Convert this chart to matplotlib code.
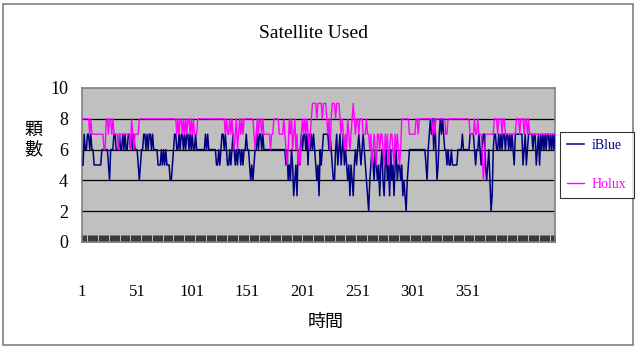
import numpy as np
import matplotlib
matplotlib.use('Agg')
import matplotlib.pyplot as plt
from matplotlib.patches import Rectangle
from matplotlib.ticker import FixedLocator, NullFormatter

plt.rcParams['font.family'] = ['Liberation Serif', 'Noto Sans CJK TC', 'DejaVu Sans']

# 讀圖估值, 每段約 72 點
iblue_str = (
    "55" "766776766" "5555555" "666666" "546" "6677666" "766767667767676" "665456"
    "6776767767666" "6555"
    "65656" "55544" "567" "7667677676776767667" "66666666" "7676" "666666" "5565"
    "67767" "6556567656566"
    "5656" "67665" "45456" "676776766" "66666666666666666" "656454653453656"
    "76776757676765" "453"
    "656" "777776" "76544" "675675675" "65453543565" "67656765" "4324" "56546545"
    "3564356" "45364535645"
    "545343245" "666666666666666" "546" "787868" "64578" "78766" "565565" "555566"
    "6676" "666667" "7776566"
    "76567" "75456" "4236" "776676" "767767767" "67657" "777777" "567567" "777677"
    "567576" "767677676767"
)
holux_str = (
    "8888888" "7877" "777777777" "66" "8878878" "7777677777777776" "87677778"
    "8888888888888888888"
    "88888888888888" "78788787878878787778" "888888888888888888888888"
    "78778787678678"
    "787" "888888888" "76787" "8878" "777777" "67" "7888887" "77787" "6568" "7867867"
    "5657" "878787" "678" "9999899"
    "998999878" "6899" "98999878" "76768767" "8987" "887888777877" "67567657"
    "7677657" "675677657676"
    "568" "888888" "777777" "887888888888888" "78788" "88888887788"
    "888888888888888888" "77778778"
    "7776" "457" "7777777" "88878887887" "777777777" "888788878878777"
    "777777777777777777777"
)
iblue = [int(c) for c in iblue_str]
holux = [int(c) for c in holux_str]
n = min(len(iblue), len(holux))
iblue, holux = iblue[:n], holux[:n]

x_tick_pos = [0, 50, 100, 150, 200, 250, 300, 350]
x_tick_labels = ['1', '51', '101', '151', '201', '251', '301', '351']
y_ticks = [0, 2, 4, 6, 8, 10]

W, H = 640, 352
fig = plt.figure(figsize=(W / 100, H / 100), dpi=100)
fig.patch.set_facecolor('white')

# 外框
fig.add_artist(Rectangle((3 / W, 1 - 345 / H), 630 / W, 341 / H, transform=fig.transFigure,
                         fill=False, edgecolor='#808080', lw=1.2))

ax = fig.add_axes([82 / W, 1 - 242 / H, 473 / W, 154 / H])
ax.set_facecolor('#C0C0C0')
for s in ax.spines.values():
    s.set_color('#808080')
    s.set_linewidth(1.2)

for y in y_ticks[1:-1]:
    ax.axhline(y, color='black', lw=0.9, zorder=1)

xs = np.arange(n)
ax.plot(xs, iblue, color='#000080', lw=1.1, label='iBlue', zorder=3)
ax.plot(xs, holux, color='#FF00FF', lw=1.0, label='Holux', zorder=3)

ax.set_xlim(0, n - 1)
ax.set_ylim(0, 10)
ax.set_yticks(y_ticks)
ax.tick_params(axis='y', length=0, pad=10, labelsize=13)

ax.xaxis.set_major_locator(FixedLocator(x_tick_pos))
ax.set_xticklabels(x_tick_labels)
ax.xaxis.set_minor_locator(FixedLocator(xs))
ax.xaxis.set_minor_formatter(NullFormatter())
ax.tick_params(axis='x', which='both', direction='in', length=5, width=0.5, color='black')
ax.tick_params(axis='x', which='major', pad=30, labelsize=12)

fig.text(0.49, 1 - 33 / H, 'Satellite Used', ha='center', va='center', fontsize=14)
fig.text(326 / W, 1 - 322 / H, '時間', ha='center', va='center', fontsize=13,
         family=['Noto Sans CJK TC'])
fig.text(33 / W, 1 - 140 / H, '顆\n數', ha='center', va='center', fontsize=13,
         family=['Noto Sans CJK TC'], linespacing=1.1)

leg = fig.legend(loc='upper left', bbox_to_anchor=(560 / W, 1 - 132 / H), fontsize=10,
                 frameon=True, fancybox=False, handlelength=1.2, labelspacing=1.9,
                 borderpad=0.5, handletextpad=0.6, borderaxespad=0)
leg.get_frame().set_edgecolor('black')
leg.get_frame().set_linewidth(0.8)
for t, c in zip(leg.get_texts(), ['#000080', '#FF00FF']):
    t.set_color(c)

fig.savefig('out.png', dpi=100)
